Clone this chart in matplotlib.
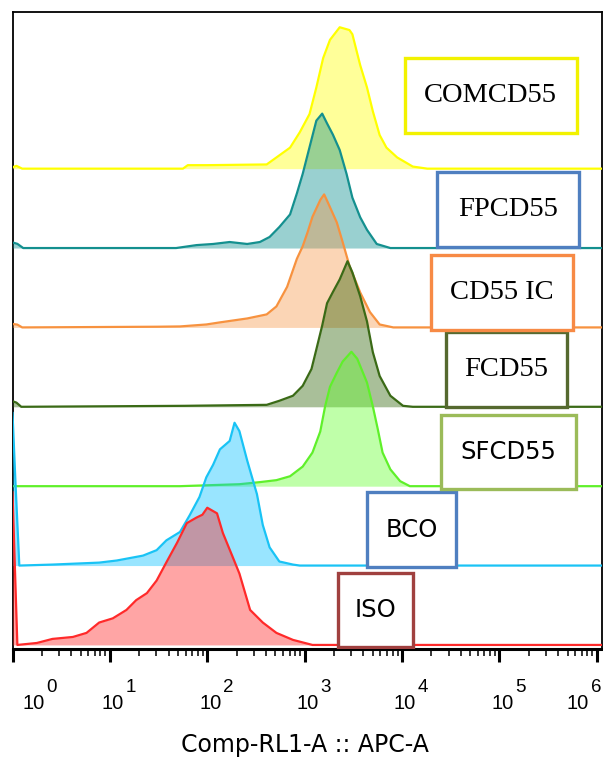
import numpy as np
import matplotlib
matplotlib.use('Agg')
import matplotlib.pyplot as plt
import matplotlib.transforms as mtransforms
from matplotlib.patches import Rectangle
from matplotlib.ticker import LogLocator, NullFormatter

# Histogram outlines.
# x: log10(Comp-RL1-A), y: height in % of the modal bin
iso_log = [0.00, 0.05, 0.25, 0.41, 0.62, 0.76, 0.89, 1.03, 1.17, 1.27, 1.38, 1.48, 1.58,
           1.69, 1.79, 1.89, 1.95, 2.00, 2.10, 2.16, 2.26, 2.33, 2.44, 2.57, 2.71, 2.88, 3.08, 6.05]
iso_pct = [109, 0, 1.4, 4.3, 5.7, 8.6, 16, 19, 25, 32, 37, 46, 59,
           73, 87, 91, 93, 98, 94, 80, 63, 51, 25, 16, 8.6, 3.6, 0, 0]

bco_log = [0.00, 0.03, 0.07, 0.41, 0.89, 1.07, 1.34, 1.48, 1.58, 1.72, 1.82, 1.92, 1.99, 2.06,
           2.13, 2.23, 2.28, 2.33, 2.41, 2.51, 2.57, 2.64, 2.74, 2.88, 2.95, 6.05]
bco_pct = [109, 60, 0, 0.7, 2.1, 3.6, 7.1, 11, 18, 24, 36, 49, 63, 72,
           83, 89, 102, 96, 75, 51, 29, 13, 2.9, 0.7, 0, 0]

sfcd55_log = [0.00, 1.72, 2.33, 2.54, 2.71, 2.85, 2.98, 3.08, 3.16, 3.21, 3.26, 3.33, 3.39,
              3.48, 3.54, 3.64, 3.70, 3.75, 3.80, 3.88, 3.98, 4.08, 6.05]
sfcd55_pct = [0, 0, 1.4, 2.9, 4.3, 7.1, 14, 24, 39, 57, 71, 81, 89,
              96, 91, 74, 57, 41, 24, 12, 3.6, 0, 0]

fcd55_log = [0.00, 0.04, 0.09, 1.77, 2.61, 2.74, 2.88, 2.98, 3.07, 3.12, 3.18, 3.23, 3.29,
             3.36, 3.44, 3.49, 3.57, 3.64, 3.70, 3.77, 3.88, 4.01, 4.11, 6.05]
fcd55_pct = [4, 3, 0, 0.7, 1.4, 4.3, 7.9, 15, 27, 41, 58, 74, 82,
             91, 104, 96, 79, 61, 39, 22, 7.9, 0.7, 0, 0]

cd55ic_log = [0.00, 0.05, 0.10, 1.49, 1.72, 1.99, 2.13, 2.41, 2.61, 2.71, 2.82, 2.92, 2.98,
              3.03, 3.08, 3.16, 3.20, 3.24, 3.33, 3.39, 3.46, 3.57, 3.67, 3.77, 3.91, 6.05]
cd55ic_pct = [2.5, 2, 0, 0.5, 0.7, 2.1, 3.6, 6.4, 9.3, 15, 29, 49, 58,
              68, 79, 91, 95, 89, 75, 61, 44, 25, 11, 2.1, 0, 0]

fpcd55_log = [0.00, 0.05, 0.11, 1.68, 1.89, 2.06, 2.23, 2.41, 2.54, 2.64, 2.74, 2.85, 2.92,
              2.98, 3.05, 3.12, 3.18, 3.23, 3.29, 3.36, 3.43, 3.49, 3.57, 3.64, 3.74, 3.88, 6.05]
fpcd55_pct = [4, 3, 0, 0, 2.1, 2.9, 4.3, 2.9, 4.3, 7.9, 15, 24, 39,
              53, 72, 91, 96, 89, 81, 70, 53, 36, 22, 13, 2.9, 0, 0]

comcd55_log = [0.00, 0.04, 0.10, 1.75, 1.80, 2.00, 2.61, 2.67, 2.85, 2.95, 3.05, 3.12, 3.19,
               3.26, 3.36, 3.46, 3.49, 3.57, 3.64, 3.70, 3.77, 3.84, 3.95, 4.11, 4.26, 6.05]
comcd55_pct = [1, 2, 0, 0, 2.5, 2.5, 3, 6, 15, 26, 39, 58, 79,
               92, 101, 99, 96, 74, 58, 41, 24, 15, 8, 1.5, 0, 0]

# stacked bottom -> top
samples = ['ISO', 'BCO', 'SFCD55', 'FCD55', 'CD55 IC', 'FPCD55', 'COMCD55']
curves = [(iso_log, iso_pct), (bco_log, bco_pct), (sfcd55_log, sfcd55_pct),
          (fcd55_log, fcd55_pct), (cd55ic_log, cd55ic_pct), (fpcd55_log, fpcd55_pct),
          (comcd55_log, comcd55_pct)]
line_colors = ['#ff2a2a', '#19c3f5', '#5ff02a', '#3a6a16', '#f7923f', '#14908f', '#ffff00']
fill_colors = ['#ff2020', '#00c0ff', '#61ff2a', '#2a5f00', '#f79646', '#008b8b', '#ffff00']
box_colors = ['#a0403f', '#4f7fc0', '#9bbb59', '#55692f', '#f78a45', '#4f7fc0', '#f2f200']

# label boxes, axes fraction (x0, y0, w, h)
boxes = [(0.553, 0.003, 0.127, 0.116), (0.602, 0.129, 0.151, 0.117),
         (0.728, 0.251, 0.229, 0.116), (0.736, 0.380, 0.205, 0.118),
         (0.711, 0.501, 0.241, 0.118), (0.721, 0.631, 0.241, 0.118),
         (0.666, 0.810, 0.292, 0.118)]
serif_labels = ['FCD55', 'CD55 IC', 'FPCD55', 'COMCD55']

step = 56.7
base0 = 2.9

fig = plt.figure(figsize=(6.03, 7.59), dpi=100)
ax = fig.add_axes([12.5 / 603, 110 / 759, 589 / 603, 637 / 759])

n = len(samples)
for i in range(n - 1, -1, -1):
    d, h = curves[i]
    x = 10 ** np.array(d)
    y = base0 + i * step + np.array(h)
    z = 2 + (n - i)
    ax.fill_between(x, base0 + i * step, y, color=fill_colors[i], alpha=0.4,
                    lw=0, zorder=z)
    ax.plot(x, y, color=line_colors[i], lw=1.6, zorder=z + 0.5)

for i, name in enumerate(samples):
    x0, y0, w, h = boxes[i]
    ax.add_patch(Rectangle((x0, y0), w, h, transform=ax.transAxes, facecolor='white',
                           edgecolor=box_colors[i], lw=2.4, zorder=20))
    if name in serif_labels:
        ax.text(x0 + w / 2, y0 + h / 2, name, transform=ax.transAxes, ha='center',
                va='center', fontsize=20.5, family='Liberation Serif', zorder=21)
    else:
        ax.text(x0 + w / 2, y0 + h / 2, name, transform=ax.transAxes, ha='center',
                va='center', fontsize=17.5, family='DejaVu Sans', zorder=21)

ax.set_xscale('log')
ax.set_xlim(1, 10 ** 6.048)
ax.set_ylim(0, 455)
ax.set_yticks([])
ax.xaxis.set_major_locator(LogLocator(base=10, numticks=10))
ax.xaxis.set_minor_locator(LogLocator(base=10, subs=np.arange(2, 10), numticks=100))
ax.xaxis.set_major_formatter(NullFormatter())
ax.xaxis.set_minor_formatter(NullFormatter())
ax.tick_params(axis='x', which='major', direction='out', length=9.5, width=2.2, color='black')
ax.tick_params(axis='x', which='minor', direction='out', length=5, width=1.1, color='black')

for side in ['top', 'left', 'right']:
    ax.spines[side].set_linewidth(1.3)
ax.spines['bottom'].set_linewidth(2.2)

# decade labels drawn as "10" plus a raised exponent
trans = mtransforms.blended_transform_factory(ax.transData, ax.transAxes)
shifts = [21, 3, 3, 3, 3, 3, -19]
for k in range(7):
    off = mtransforms.ScaledTranslation(shifts[k] / 100, 0, fig.dpi_scale_trans)
    ax.text(10 ** k, -0.085, '10', transform=trans + off, ha='center', va='center',
            fontsize=14.5, family='Liberation Sans', clip_on=False)
    off2 = mtransforms.ScaledTranslation((shifts[k] + 13) / 100, 0, fig.dpi_scale_trans)
    ax.text(10 ** k, -0.061, str(k), transform=trans + off2, ha='left', va='center',
            fontsize=13.5, family='Liberation Sans', clip_on=False)

ax.set_xlabel('Comp-RL1-A :: APC-A', fontsize=17, family='DejaVu Sans')
ax.xaxis.set_label_coords(0.497, -0.151)
ax.xaxis.label.set_va('center')

fig.savefig('out.png', dpi=100)
